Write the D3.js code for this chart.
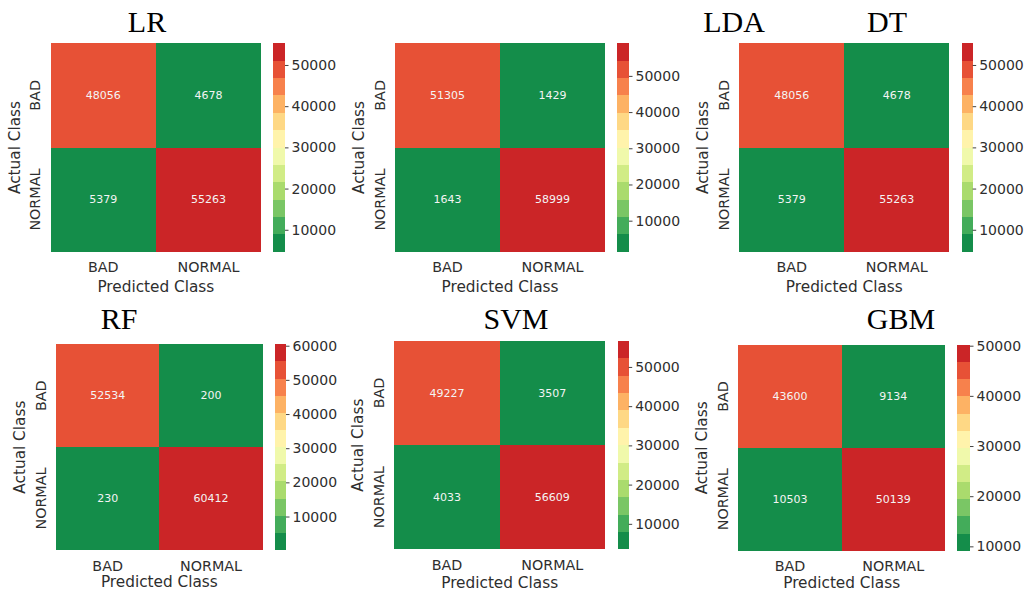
<!DOCTYPE html>
<html><head><meta charset="utf-8">
<script src="https://cdn.jsdelivr.net/npm/d3@7"></script>
<style>body{margin:0;background:#fff}svg{display:block}</style>
</head><body>
<svg id="c" width="1029" height="592"></svg>
<script>
// ---- data ----
const classes = ["BAD", "NORMAL"];
const models = ["LR", "LDA", "DT", "RF", "SVM", "GBM"];
const cmLR  = [[48056, 4678], [5379, 55263]];
const cmLDA = [[51305, 1429], [1643, 58999]];
const cmDT  = [[48056, 4678], [5379, 55263]];
const cmRF  = [[52534, 200], [230, 60412]];
const cmSVM = [[49227, 3507], [4033, 56609]];
const cmGBM = [[43600, 9134], [10503, 50139]];
const matrices = [cmLR, cmLDA, cmDT, cmRF, cmSVM, cmGBM];
const xLabel = "Predicted Class";
const yLabel = "Actual Class";

// ---- layout (positions only) ----
const panels = [
  {hx: 50.7, hy: 43.3, hw: 210.3, hh: 208.4, cx: 273.3, cw: 11.7, lo: 40},
  {hx: 395, hy: 43.3, hw: 210, hh: 208.4, cx: 617.3, cw: 11.7, lo: 40},
  {hx: 739.3, hy: 43.3, hw: 210, hh: 208.4, cx: 961.7, cw: 11, lo: 40},
  {hx: 56, hy: 344.3, hw: 206.7, hh: 205.7, cx: 275, cw: 11, lo: 37.3},
  {hx: 394.3, hy: 341, hw: 210.7, hh: 208.3, cx: 617.7, cw: 11, lo: 38.5},
  {hx: 738.3, hy: 345, hw: 206.7, hh: 205.7, cx: 957.3, cw: 12.7, lo: 37.3}
];
const titlePos = [
  {x: 147, y: 32}, {x: 734, y: 32}, {x: 887, y: 32},
  {x: 119, y: 329}, {x: 516, y: 329}, {x: 901, y: 329}
];

// ---- palette: RdYlGn_r sampled at 12 levels ----
const brewer = ["#a50026","#d73027","#f46d43","#fdae61","#fee08b","#ffffbf","#d9ef8b","#a6d96a","#66bd63","#1a9850","#006837"];
const interp = d3.scaleLinear().domain(d3.range(11).map(i => i / 10)).range(brewer).interpolate(d3.interpolateRgb);
const palette = d3.range(1, 13).map(i => interp(i / 13)).reverse();

const svg = d3.select("#c");
const txt = "#2e2e2e";

matrices.forEach((m, pi) => {
  const p = panels[pi];
  const g = svg.append("g");
  const flat = m.flat();
  const vmin = d3.min(flat), vmax = d3.max(flat);
  const color = d3.scaleQuantize().domain([vmin, vmax]).range(palette);
  const x = d3.scaleBand().domain(classes).range([p.hx, p.hx + p.hw]);
  const y = d3.scaleBand().domain(classes).range([p.hy, p.hy + p.hh]);

  const cells = [];
  m.forEach((row, ri) => row.forEach((v, ci) => cells.push({r: classes[ri], c: classes[ci], v})));

  g.selectAll("rect.cell").data(cells).join("rect")
    .attr("x", d => x(d.c)).attr("y", d => y(d.r))
    .attr("width", x.bandwidth()).attr("height", y.bandwidth())
    .attr("fill", d => color(d.v)).attr("shape-rendering", "crispEdges");

  g.selectAll("text.ann").data(cells).join("text")
    .attr("x", d => x(d.c) + x.bandwidth() / 2).attr("y", d => y(d.r) + y.bandwidth() / 2)
    .attr("text-anchor", "middle").attr("dominant-baseline", "central")
    .attr("font-family", "DejaVu Sans").attr("font-size", 11).attr("fill", "#f4f4f4")
    .text(d => d.v);

  // x tick labels
  g.selectAll("text.xt").data(classes).join("text")
    .attr("x", d => x(d) + x.bandwidth() / 2).attr("y", p.hy + p.hh + 20.5)
    .attr("text-anchor", "middle").attr("font-family", "DejaVu Sans").attr("font-size", 14.3)
    .attr("fill", txt).text(d => d);
  // y tick labels
  g.selectAll("text.yt").data(classes).join("text")
    .attr("transform", d => `translate(${p.hx - 15.5},${y(d) + y.bandwidth() / 2}) rotate(-90)`)
    .attr("text-anchor", "middle").attr("dominant-baseline", "central")
    .attr("font-family", "DejaVu Sans").attr("font-size", 14.3)
    .attr("fill", txt).text(d => d);
  // axis labels
  g.append("text").attr("x", p.hx + p.hw / 2).attr("y", p.hy + p.hh + p.lo)
    .attr("text-anchor", "middle").attr("font-family", "DejaVu Sans").attr("font-size", 15.3)
    .attr("fill", txt).text(xLabel);
  g.append("text")
    .attr("transform", `translate(${p.hx - 36},${p.hy + p.hh / 2}) rotate(-90)`)
    .attr("text-anchor", "middle").attr("dominant-baseline", "central")
    .attr("font-family", "DejaVu Sans").attr("font-size", 15.3)
    .attr("fill", txt).text(yLabel);

  // colorbar
  const cy = d3.scaleLinear().domain([vmin, vmax]).range([p.hy + p.hh, p.hy]);
  const step = (vmax - vmin) / palette.length;
  g.selectAll("rect.cb").data(palette).join("rect")
    .attr("x", p.cx).attr("width", p.cw)
    .attr("y", (c, i) => cy(vmin + (i + 1) * step))
    .attr("height", (c, i) => cy(vmin + i * step) - cy(vmin + (i + 1) * step))
    .attr("fill", c => c).attr("shape-rendering", "crispEdges");
  const axis = d3.axisRight(cy).ticks(5).tickSize(3.5).tickPadding(3).tickFormat(d3.format("d"));
  const ag = g.append("g").attr("transform", `translate(${p.cx + p.cw},0)`).call(axis);
  ag.select(".domain").remove();
  ag.selectAll("line").attr("stroke", txt).attr("stroke-width", 0.9);
  ag.selectAll("text").attr("font-family", "DejaVu Sans").attr("font-size", 14).attr("fill", txt);

  // title
  svg.append("text").attr("x", titlePos[pi].x).attr("y", titlePos[pi].y)
    .attr("text-anchor", "middle").attr("font-family", "Liberation Serif").attr("font-size", 30)
    .attr("fill", "#000").text(models[pi]);
});
</script>
</body></html>
